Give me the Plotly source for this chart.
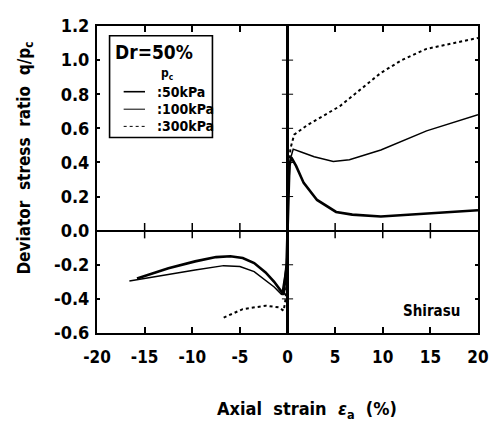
import plotly.graph_objects as go

# ---- data ----
strain_50_c = [0, 0.1, 0.2, 0.4, 0.9, 1.7, 3.1, 5.1, 6.8, 9.8, 14.6, 20]
q_50_c = [0, 0.25, 0.38, 0.43, 0.38, 0.28, 0.18, 0.11, 0.094, 0.083, 0.10, 0.12]
strain_50_e = [0, -0.1, -0.4, -1.4, -2.3, -3.5, -4.7, -6.0, -7.5, -9.7, -12.5, -15.8]
q_50_e = [0, -0.2, -0.375, -0.30, -0.245, -0.19, -0.16, -0.15, -0.155, -0.18, -0.22, -0.28]

strain_100_c = [0, 0.1, 0.3, 0.6, 1.5, 2.8, 4.8, 6.5, 9.8, 14.6, 20]
q_100_c = [0, 0.25, 0.42, 0.478, 0.46, 0.433, 0.405, 0.416, 0.473, 0.585, 0.68]
strain_100_e = [0, -0.1, -0.6, -1.4, -2.3, -3.5, -5.0, -6.7, -9.7, -13.1, -16.6]
q_100_e = [0, -0.2, -0.375, -0.33, -0.29, -0.24, -0.21, -0.205, -0.23, -0.26, -0.295]

strain_300_c = [0, 0.1, 0.3, 0.7, 2.1, 5.5, 9.8, 12.0, 14.6, 20]
q_300_c = [0, 0.3, 0.48, 0.563, 0.62, 0.73, 0.925, 1.0, 1.066, 1.13]
strain_300_e = [0, -0.1, -0.2, -0.4, -0.9, -2.3, -4.7, -6.7]
q_300_e = [0, -0.3, -0.40, -0.47, -0.45, -0.44, -0.46, -0.51]

legend_names = [":50kPa", ":100kPa", ":300kPa"]
x_ticks = [-20, -15, -10, -5, 0, 5, 10, 15, 20]
y_ticks = [-0.6, -0.4, -0.2, 0.0, 0.2, 0.4, 0.6, 0.8, 1.0, 1.2]
y_ticklabels = ["-0.6", "-0.4", "-0.2", "0.0", "0.2", "0.4", "0.6", "0.8", "1.0", "1.2"]

FONT = "DejaVu Sans Condensed, Liberation Sans, sans-serif"

fig = go.Figure()

def branch(xe, ye, xc, yc):
    return list(reversed(xe)) + xc[1:], list(reversed(ye)) + yc[1:]

styles = [dict(width=2.6, dash="solid"), dict(width=1.5, dash="solid"), dict(width=2.0, dash="dot")]
series = [(strain_50_e, q_50_e, strain_50_c, q_50_c),
          (strain_100_e, q_100_e, strain_100_c, q_100_c),
          (strain_300_e, q_300_e, strain_300_c, q_300_c)]
for (xe, ye, xc, yc), st, nm in zip(series, styles, legend_names):
    xs, ys = branch(xe, ye, xc, yc)
    fig.add_trace(go.Scatter(x=xs, y=ys, mode="lines", name=nm,
                             line=dict(color="black", **st), showlegend=False))

# crossing ticks on the y=0 line
cross = [t for t in x_ticks if t not in (0, -20, 20)]
fig.add_trace(go.Scatter(x=cross, y=[0] * len(cross), mode="markers",
                         marker=dict(symbol="line-ns", size=11, line=dict(width=1.5, color="black")),
                         showlegend=False, hoverinfo="skip"))
# small ticks on the x=0 line
yt = [t for t in y_ticks if t not in (0.0, -0.6, 1.2)]
fig.add_trace(go.Scatter(x=[0] * len(yt), y=yt, mode="markers",
                         marker=dict(symbol="line-ew", size=8, line=dict(width=1, color="black")),
                         showlegend=False, hoverinfo="skip"))

xtickfont = dict(family=FONT, size=17, color="black", weight="bold")
ytickfont = dict(family=FONT, size=18, color="black", weight="bold")
fig.update_xaxes(range=[-20, 20], tickvals=x_ticks, ticktext=[str(t) for t in x_ticks],
                 ticks="inside", ticklen=6, tickwidth=1.5, tickcolor="black",
                 showline=True, linewidth=2, linecolor="black", mirror="ticks",
                 showgrid=False, zeroline=True, zerolinewidth=2.5, zerolinecolor="black",
                 tickfont=xtickfont, ticklabelstandoff=8, ticklabeloverflow="allow")
fig.update_yaxes(range=[-0.6, 1.2], tickvals=y_ticks, ticktext=y_ticklabels,
                 ticks="inside", ticklen=3, tickwidth=1.5, tickcolor="black",
                 showline=True, linewidth=2, linecolor="black", mirror="ticks",
                 showgrid=False, zeroline=True, zerolinewidth=1.6, zerolinecolor="black",
                 tickfont=ytickfont, ticklabelstandoff=2, ticklabeloverflow="allow")

# legend box (manual)
fig.add_shape(type="rect", xref="paper", yref="paper", x0=0.033, x1=0.303, y0=0.637, y1=0.968,
              line=dict(color="black", width=1.6), fillcolor="white", layer="above")
fig.add_annotation(xref="paper", yref="paper", x=0.149, y=0.915, xanchor="center", yanchor="middle",
                   text="Dr=50%", showarrow=False,
                   font=dict(family=FONT, size=19, color="black", weight="bold"))
fig.add_annotation(xref="paper", yref="paper", x=0.183, y=0.843, xanchor="center", yanchor="middle",
                   text="p<sub>c</sub>", showarrow=False,
                   font=dict(family=FONT, size=12, color="black", weight="bold"))
row_y = [0.786, 0.729, 0.673]
for ry, st, nm in zip(row_y, styles, legend_names):
    fig.add_shape(type="line", xref="paper", yref="paper", x0=0.070, x1=0.126, y0=ry, y1=ry,
                  line=dict(color="black", width=max(1.0, st["width"] - 1.0), dash=st["dash"]), layer="above")
    fig.add_annotation(xref="paper", yref="paper", x=0.151, y=ry, xanchor="left", yanchor="middle",
                       text=nm, showarrow=False,
                       font=dict(family=FONT, size=14, color="black", weight="bold"))

fig.add_annotation(xref="paper", yref="paper", x=0.878, y=0.072, xanchor="center", yanchor="middle",
                   text="Shirasu", showarrow=False,
                   font=dict(family=FONT, size=15, color="black", weight="bold"))

# axis titles
fig.add_annotation(xref="paper", yref="paper", x=0.55, y=-0.25, xanchor="center", yanchor="middle",
                   text="Axial  strain  <i>ε</i><sub>a</sub>  (%)", showarrow=False,
                   font=dict(family=FONT, size=18, color="black", weight="bold"))
fig.add_annotation(xref="paper", yref="paper", x=-0.19, y=0.57, xanchor="center", yanchor="middle",
                   textangle=-90,
                   text="Deviator  stress  ratio  q/p<sub>c</sub>", showarrow=False,
                   font=dict(family=FONT, size=17, color="black", weight="bold"))

# the page body keeps its default 8px margin; size the figure so the page does not overflow the window
fig.update_layout(width=488, height=414, margin=dict(l=89, r=9, t=7, b=89),
                  paper_bgcolor="white", plot_bgcolor="white", showlegend=False)

fig.write_html("out.html", config={"displayModeBar": False})
